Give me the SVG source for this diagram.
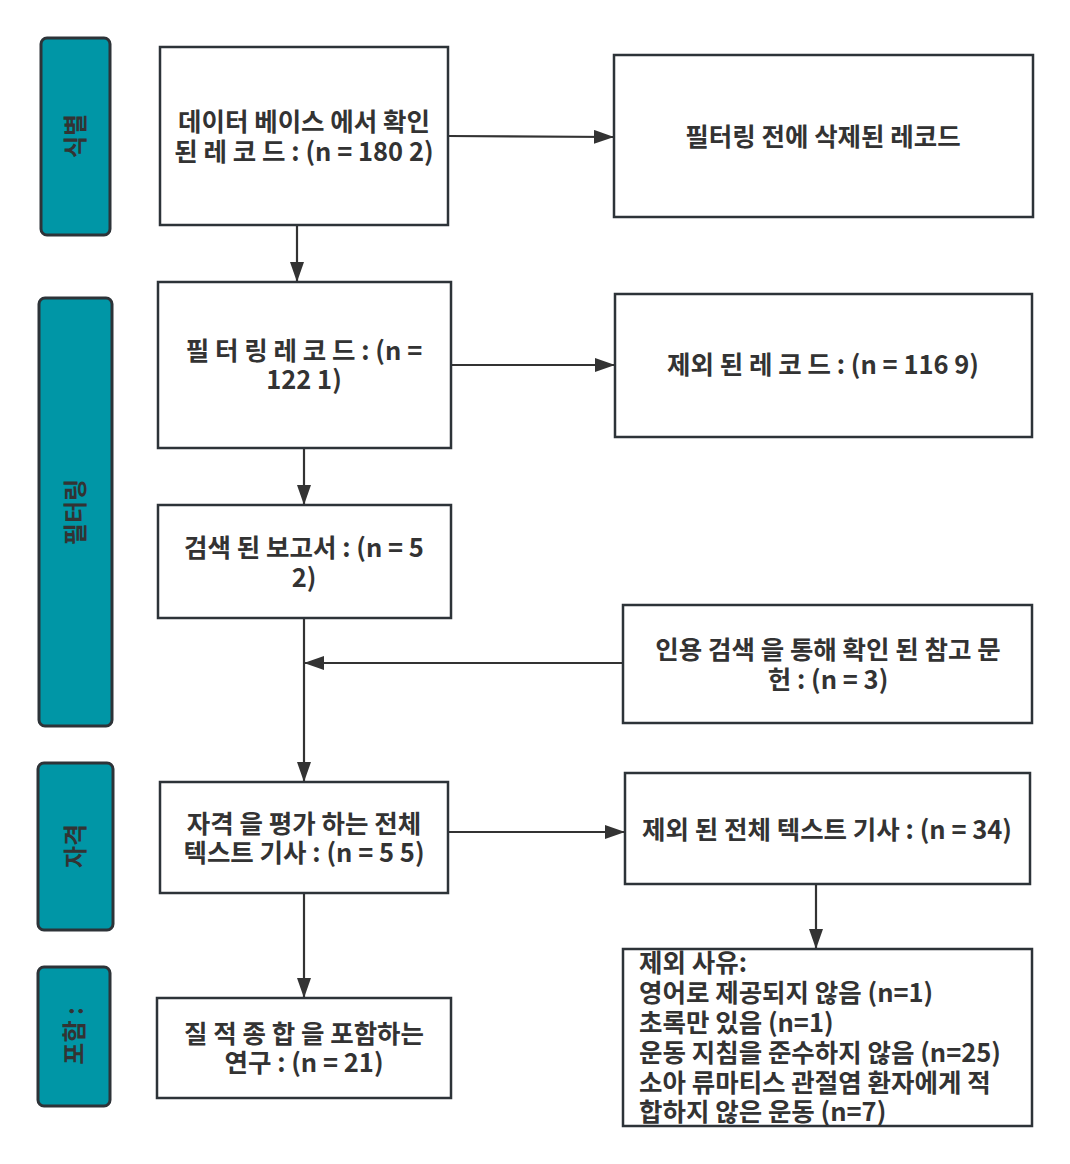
<svg xmlns="http://www.w3.org/2000/svg" width="1070" height="1164" viewBox="0 0 1070 1164">
<style>
.bar{fill:#0096a6;stroke:#2d3338;stroke-width:3}
.box{fill:#fff;stroke:#2d3338;stroke-width:2.5}
.t{font-family:"Noto Sans CJK KR","Noto Sans",sans-serif;font-size:25.5px;font-weight:bold;fill:#333;text-anchor:middle}
.v{font-family:"Noto Sans CJK KR","Noto Sans",sans-serif;font-size:24px;font-weight:bold;fill:#333;text-anchor:middle}
.l{font-family:"Noto Sans CJK KR","Noto Sans",sans-serif;font-size:25.5px;font-weight:bold;fill:#333}
.c{stroke:#333;stroke-width:2.2;fill:none;marker-end:url(#ah)}
</style>
<defs>
<marker id="ah" markerWidth="20" markerHeight="14" refX="19" refY="7" orient="auto" markerUnits="userSpaceOnUse">
<path d="M0,0 L20,7 L0,14 Z" fill="#333"/>
</marker>
</defs>
<rect width="1070" height="1164" fill="#fff"/>
<g id="lane-identify"><rect class="bar" x="41" y="38" width="69" height="197" rx="6"/><text class="v" transform="translate(84,136) rotate(-90)">식별</text></g>
<g id="lane-screen"><rect class="bar" x="39" y="298" width="73" height="428" rx="6"/><text class="v" transform="translate(84,512) rotate(-90)">필터링</text></g>
<g id="lane-elig"><rect class="bar" x="38" y="763" width="75" height="167" rx="6"/><text class="v" transform="translate(84,846) rotate(-90)">자격</text></g>
<g id="lane-incl"><rect class="bar" x="38" y="967" width="72" height="139" rx="6"/><text class="v" transform="translate(83,1036) rotate(-90)">포함 :</text></g>

<g id="connectors">
<line class="c" x1="448" y1="136" x2="613" y2="137"/>
<line class="c" x1="297" y1="225" x2="297" y2="281"/>
<line class="c" x1="451" y1="365" x2="614" y2="365"/>
<line class="c" x1="304" y1="448" x2="304" y2="504"/>
<line class="c" x1="304" y1="618" x2="304" y2="781"/>
<line class="c" x1="623" y1="663" x2="305" y2="663"/>
<line class="c" x1="448" y1="832" x2="624" y2="832"/>
<line class="c" x1="304" y1="893" x2="304" y2="997"/>
<line class="c" x1="816" y1="884" x2="816" y2="948"/>
</g>

<g id="n1"><rect class="box" x="160" y="47" width="288" height="178"/><text class="t" x="304" y="131">데이터 베이스 에서 확인</text><text class="t" x="304" y="161">된 레 코 드 : (n = 180 2)</text></g>
<g id="n2"><rect class="box" x="614" y="55" width="419" height="162"/><text class="t" x="823" y="146">필터링 전에 삭제된 레코드</text></g>
<g id="n3"><rect class="box" x="158" y="282" width="293" height="166"/><text class="t" x="304" y="360">필 터 링 레 코 드 : (n =</text><text class="t" x="304" y="389">122 1)</text></g>
<g id="n4"><rect class="box" x="615" y="294" width="417" height="143"/><text class="t" x="823" y="374">제외 된 레 코 드 : (n = 116 9)</text></g>
<g id="n5"><rect class="box" x="158" y="505" width="293" height="113"/><text class="t" x="304" y="557">검색 된 보고서 : (n = 5</text><text class="t" x="304" y="587">2)</text></g>
<g id="n6"><rect class="box" x="623" y="605" width="409" height="118"/><text class="t" x="828" y="659">인용 검색 을 통해 확인 된 참고 문</text><text class="t" x="828" y="689">헌 : (n = 3)</text></g>
<g id="n7"><rect class="box" x="160" y="782" width="288" height="111"/><text class="t" x="304" y="833">자격 을 평가 하는 전체</text><text class="t" x="304" y="862">텍스트 기사 : (n = 5 5)</text></g>
<g id="n8"><rect class="box" x="625" y="773" width="405" height="111"/><text class="t" x="827" y="839">제외 된 전체 텍스트 기사 : (n = 34)</text></g>
<g id="n9"><rect class="box" x="623" y="949" width="409" height="177"/>
<text class="l" x="639" y="972">제외 사유:</text>
<text class="l" x="639" y="1002">영어로 제공되지 않음 (n=1)</text>
<text class="l" x="639" y="1032">초록만 있음 (n=1)</text>
<text class="l" x="639" y="1062">운동 지침을 준수하지 않음 (n=25)</text>
<text class="l" x="639" y="1092">소아 류마티스 관절염 환자에게 적</text>
<text class="l" x="639" y="1121">합하지 않은 운동 (n=7)</text></g>
<g id="n10"><rect class="box" x="157" y="998" width="294" height="100"/><text class="t" x="304" y="1043">질 적 종 합 을 포함하는</text><text class="t" x="304" y="1072">연구 : (n = 21)</text></g>
</svg>
